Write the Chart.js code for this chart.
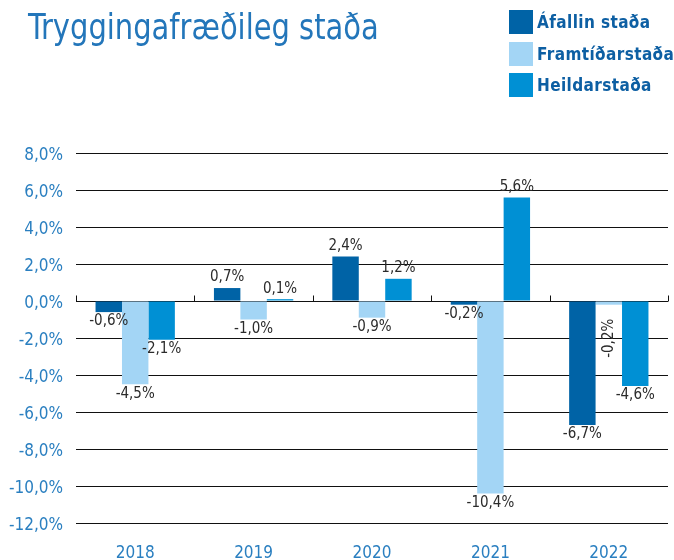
<!DOCTYPE html>
<html>
<head>
<meta charset="utf-8">
<script src="https://cdn.jsdelivr.net/npm/chart.js@4.4.1/dist/chart.umd.min.js"></script>
<style>
  html, body { margin: 0; padding: 0; background: #fff; }
  #wrap { position: relative; width: 674px; height: 560px; overflow: hidden; }
  #chart { position: absolute; left: 0; top: 0; }
  #title {
    position: absolute; left: 28px; top: 7px;
    font-family: 'DejaVu Sans Condensed', 'Liberation Sans Narrow', sans-serif;
    font-size: 35px; color: #2376ba; white-space: nowrap;
    transform: scaleX(0.92); transform-origin: left top;
  }
  #legend { position: absolute; left: 509px; top: 10px; }
  .item { display: flex; align-items: center; height: 24px; margin-bottom: 7.5px; }
  .swatch { width: 24px; height: 24px; margin-right: 4px; }
  .item span {
    font-family: 'DejaVu Sans Condensed', 'Liberation Sans Narrow', sans-serif;
    font-weight: bold; font-size: 17px; color: #0d5fa3; white-space: nowrap; letter-spacing: 0.4px;
  }
</style>
</head>
<body>
<div id="wrap">
  <canvas id="chart" width="674" height="560"></canvas>
  <div id="title">Tryggingafræðileg staða</div>
  <div id="legend"></div>
</div>
<script>
const years = ['2018', '2019', '2020', '2021', '2022'];
const seriesNames = ['Áfallin staða', 'Framtíðarstaða', 'Heildarstaða'];
const afallin = [-0.6, 0.7, 2.4, -0.2, -6.7];
const framtid = [-4.5, -1.0, -0.9, -10.4, -0.2];
const heild = [-2.1, 0.1, 1.2, 5.6, -4.6];
const seriesColors = ['#0063a6', '#a3d5f5', '#0090d4'];
// label drawn vertically (dataset, year index) because it collides with neighbours
const rotatedLabels = [[1, 4]];

const fontStack = "'DejaVu Sans Condensed', 'Liberation Sans Narrow', sans-serif";
const pct = v => v.toFixed(1).replace('.', ',') + '%';

// legend
const legend = document.getElementById('legend');
seriesNames.forEach((name, i) => {
  const row = document.createElement('div');
  row.className = 'item';
  row.innerHTML = '<div class="swatch" style="background:' + seriesColors[i] + '"></div><span>' + name + '</span>';
  legend.appendChild(row);
});

// value labels on bars
const barLabels = {
  id: 'barLabels',
  afterDatasetsDraw(chart) {
    const ctx = chart.ctx;
    ctx.save();
    ctx.font = '15px ' + fontStack;
    ctx.fillStyle = '#2b2b2b';
    chart.data.datasets.forEach((ds, di) => {
      chart.getDatasetMeta(di).data.forEach((bar, i) => {
        const v = ds.data[i];
        const txt = pct(v);
        const rot = rotatedLabels.some(r => r[0] === di && r[1] === i);
        if (rot) {
          ctx.save();
          ctx.translate(bar.x, bar.y + 14);
          ctx.rotate(-Math.PI / 2);
          ctx.textAlign = 'right';
          ctx.textBaseline = 'middle';
          ctx.fillText(txt, 0, 0);
          ctx.restore();
          return;
        }
        ctx.textAlign = 'center';
        if (v >= 0) {
          ctx.textBaseline = 'bottom';
          ctx.fillText(txt, bar.x, bar.y - 3);
        } else {
          ctx.textBaseline = 'top';
          ctx.fillText(txt, bar.x, bar.y + 2);
        }
      });
    });
    ctx.restore();
  }
};

// small upward ticks on the zero line between the years
const zeroTicks = {
  id: 'zeroTicks',
  afterDatasetsDraw(chart) {
    const x = chart.scales.x, y = chart.scales.y;
    const ctx = chart.ctx;
    const y0 = Math.round(y.getPixelForValue(0)) + 0.5;
    const half = (x.getPixelForValue(1) - x.getPixelForValue(0)) / 2;
    ctx.save();
    ctx.strokeStyle = '#111';
    ctx.lineWidth = 1;
    for (let i = 0; i <= years.length; i++) {
      const px = Math.round(x.getPixelForValue(i) - half) + 0.5;
      ctx.beginPath();
      ctx.moveTo(px, y0);
      ctx.lineTo(px, y0 - 6);
      ctx.stroke();
    }
    ctx.restore();
  }
};

new Chart(document.getElementById('chart'), {
  type: 'bar',
  data: {
    labels: years,
    datasets: [afallin, framtid, heild].map((d, i) => ({
      label: seriesNames[i],
      data: d,
      backgroundColor: seriesColors[i],
      borderWidth: 0,
      categoryPercentage: 0.67,
      barPercentage: 1.0
    }))
  },
  options: {
    responsive: false,
    animation: false,
    devicePixelRatio: 1,
    layout: { padding: { top: 153, right: 6, left: 0, bottom: 0 } },
    plugins: { legend: { display: false }, tooltip: { enabled: false } },
    scales: {
      x: {
        grid: { display: false },
        border: { display: false },
        ticks: { color: '#2a7fc0', font: { family: fontStack, size: 17 }, padding: 12 },
        afterFit: s => { s.height = 37; }
      },
      y: {
        min: -12,
        max: 8,
        grid: { color: '#111', lineWidth: 1, drawTicks: false },
        border: { display: false },
        ticks: {
          stepSize: 2,
          color: '#2a7fc0',
          font: { family: fontStack, size: 17 },
          padding: 13,
          labelOffset: 3,
          callback: v => pct(v)
        },
        afterFit: s => { s.width = 76; }
      }
    }
  },
  plugins: [barLabels, zeroTicks]
});
</script>
</body>
</html>
